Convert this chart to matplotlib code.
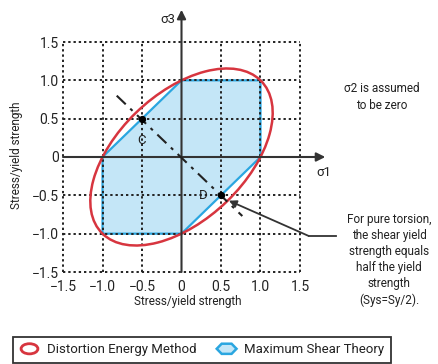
import matplotlib
matplotlib.use("Agg")
import matplotlib.pyplot as plt
from matplotlib.patches import Ellipse, Polygon, Patch
from matplotlib.legend_handler import HandlerPatch

plt.rcParams['font.family'] = ['Roboto', 'DejaVu Sans']

# Normalised principal stresses (stress / yield strength)
ticks = [-1.5, -1.0, -0.5, 0.0, 0.5, 1.0, 1.5]
tick_labels = ['\u22121.5', '\u22121.0', '\u22120.5', '0', '0.5', '1.0', '1.5']

# Maximum shear (Tresca) hexagon vertices
tresca_x = [1.0, 1.0, 0.0, -1.0, -1.0, 0.0]
tresca_y = [0.0, 1.0, 1.0, 0.0, -1.0, -1.0]

# Distortion energy (von Mises) ellipse: semi-axes along the 45 deg diagonals
vm_major = 1.414   # along sigma1 = sigma3
vm_minor = 0.816   # along sigma1 = -sigma3
vm_angle = 45

# Pure-shear loading line and the points on it
shear_x = [-0.82, 0.77]
shear_y = [0.80, -0.77]
pt_x = [-0.5, 0.5]
pt_y = [0.5, -0.5]
pt_names = ['C', 'D']

RED = '#d7353f'
BLUE_EDGE = '#2aa6e0'
BLUE_FILL = '#c4e6f7'
INK = '#222222'

fig = plt.figure(figsize=(4.39, 3.64), dpi=100)
ax = fig.add_axes([63 / 439, (364 - 272) / 364, 237 / 439, 230 / 364])
ax.set_xlim(-1.5, 1.5)
ax.set_ylim(-1.5, 1.5)
for s in ax.spines.values():
    s.set_visible(False)

# hexagon
ax.add_patch(Polygon(list(zip(tresca_x, tresca_y)), closed=True,
                     facecolor=BLUE_FILL, edgecolor=BLUE_EDGE, lw=1.6, zorder=1))

# dotted grid
grid_kw = dict(color=INK, lw=1.4, linestyle=(0, (1.2, 1.5)), zorder=2, clip_on=False)
for t in ticks:
    if t != 0:
        ax.plot([t, t], [ticks[0], ticks[-1]], **grid_kw)
        ax.plot([ticks[0], ticks[-1]], [t, t], **grid_kw)

# ellipse
ax.add_patch(Ellipse((0, 0), 2 * vm_major, 2 * vm_minor, angle=vm_angle,
                     facecolor='none', edgecolor=RED, lw=1.8, zorder=4))

# principal stress axes with arrows
arr_kw = dict(arrowstyle='-|>', lw=1.5, color='#333333', mutation_scale=13,
              shrinkA=0, shrinkB=0)
ax.annotate('', xy=(1.82, 0), xytext=(-1.5, 0), arrowprops=arr_kw,
            annotation_clip=False, zorder=5)
ax.annotate('', xy=(0, 1.92), xytext=(0, -1.5), arrowprops=arr_kw,
            annotation_clip=False, zorder=5)
ax.text(-0.08, 1.79, '\u03c33', ha='right', va='center', fontsize=9.5, color=INK)
ax.text(1.8, -0.2, '\u03c31', ha='center', va='center', fontsize=9.5, color=INK)

# pure shear line
ax.plot(shear_x, shear_y, color=INK, lw=1.5, linestyle=(0, (6, 3, 1.5, 3)), zorder=6)
ax.scatter(pt_x, pt_y, s=18, color='black', zorder=7)
ax.text(pt_x[0], 0.22, pt_names[0], ha='center', va='center', fontsize=9.5, color=INK)
ax.text(0.27, pt_y[1], pt_names[1], ha='center', va='center', fontsize=9.5, color=INK)

# callout
ax.plot([1.95, 1.61], [-1.03, -1.03], color='#333333', lw=1.3, clip_on=False, zorder=6)
ax.annotate('', xy=(0.6, -0.57), xytext=(1.61, -1.03),
            arrowprops=dict(arrowstyle='-|>', lw=1.3, color='#333333',
                            mutation_scale=11, shrinkA=0, shrinkB=0),
            annotation_clip=False, zorder=6)

fig.text(389 / 439, 1 - 260 / 364,
         'For pure torsion,\nthe shear yield\nstrength equals\nhalf the yield\nstrength\n(Sys=Sy/2).',
         ha='center', va='center', fontsize=8.5, color=INK, linespacing=1.3)
fig.text(382 / 439, 1 - 97 / 364, '\u03c32 is assumed\nto be zero',
         ha='center', va='center', fontsize=8.5, color=INK, linespacing=1.35)

ax.set_xticks(ticks)
ax.set_xticklabels(tick_labels)
ax.set_yticks(ticks)
ax.set_yticklabels(tick_labels)
ax.tick_params(length=0, labelsize=10, colors=INK)
ax.tick_params(axis='x', pad=6)
ax.tick_params(axis='y', pad=3)
fig.text(188 / 439, 1 - 302 / 364, 'Stress/yield strength', ha='center', va='center',
         fontsize=8.5, color=INK)
fig.text(17 / 439, 1 - 155 / 364, 'Stress/yield strength', ha='center', va='center',
         rotation=90, fontsize=8.5, color=INK)


def ellipse_icon(legend, orig_handle, xdescent, ydescent, width, height, fontsize):
    return Ellipse((width / 2 - xdescent, height / 2 - ydescent), width * 0.85, height * 1.1)


def hexagon_icon(legend, orig_handle, xdescent, ydescent, width, height, fontsize):
    x0, y0 = -xdescent, -ydescent - height * 0.05
    w, h = width, height * 1.1
    pts = [(x0 + 0.25 * w, y0), (x0 + 0.75 * w, y0), (x0 + w, y0 + h / 2),
           (x0 + 0.75 * w, y0 + h), (x0 + 0.25 * w, y0 + h), (x0, y0 + h / 2)]
    return Polygon(pts, closed=True)


h_red = Patch(facecolor='none', edgecolor=RED, lw=2, label='Distortion Energy Method')
h_blue = Patch(facecolor=BLUE_FILL, edgecolor=BLUE_EDGE, lw=1.8, label='Maximum Shear Theory')
leg = fig.legend(handles=[h_red, h_blue], loc='lower left', ncol=2,
                 bbox_to_anchor=(13 / 439, 1 / 364),
                 handler_map={h_red: HandlerPatch(patch_func=ellipse_icon),
                              h_blue: HandlerPatch(patch_func=hexagon_icon)},
                 fancybox=False, edgecolor='#333333', framealpha=1, fontsize=9.5,
                 handlelength=1.5, handletextpad=0.6, columnspacing=1.5,
                 borderaxespad=0, borderpad=0.5)
leg.get_frame().set_linewidth(1.3)
for t in leg.get_texts():
    t.set_color(INK)

fig.savefig('out.png', dpi=100)
